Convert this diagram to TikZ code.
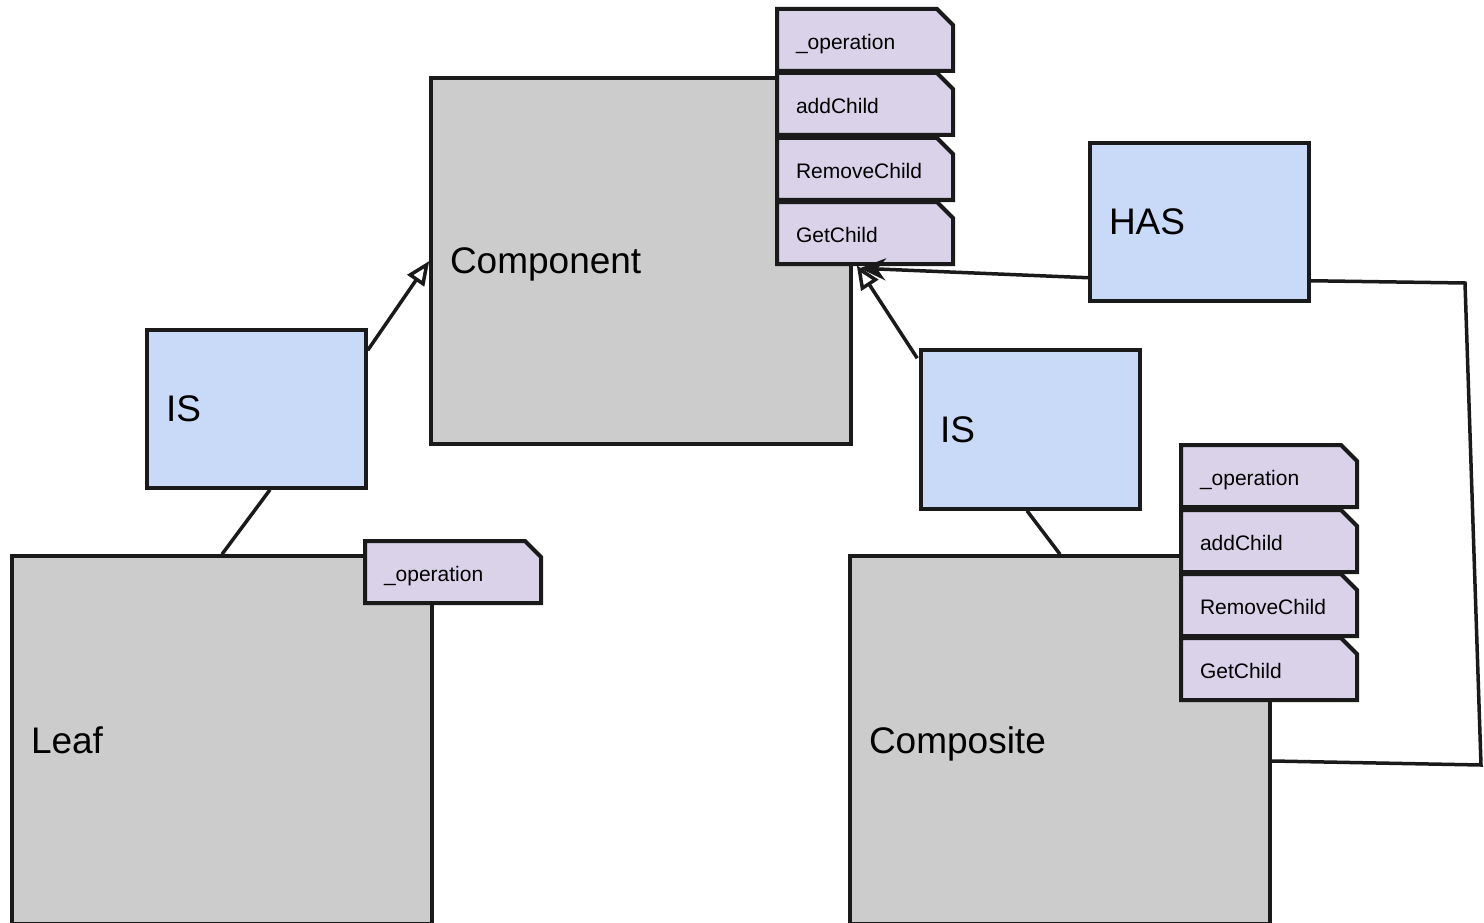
\documentclass[tikz,border=0pt]{standalone}
\usepackage{fontspec}
\setmainfont{Liberation Sans}
\usetikzlibrary{arrows.meta,shapes.misc}

\definecolor{boxgray}{HTML}{CCCCCC}
\definecolor{relblue}{HTML}{C9DAF8}
\definecolor{methpurple}{HTML}{D9D2E9}
\definecolor{ink}{HTML}{1A1A1A}

\tikzset{
  classbox/.style={draw=ink, line width=3.5pt, fill=boxgray,
    minimum width=420pt, minimum height=368pt, inner xsep=19pt,
    text width=382pt, text depth=0pt, align=left,
    font=\fontsize{37}{40}\selectfont},
  relbox/.style={draw=ink, line width=3.5pt, fill=relblue,
    minimum width=219pt, minimum height=158pt, inner xsep=19pt,
    text width=181pt, text depth=0pt, align=left,
    font=\fontsize{37}{40}\selectfont},
  methtab/.style={draw=ink, line width=4pt, fill=methpurple,
    chamfered rectangle, chamfered rectangle corners=north east,
    chamfered rectangle xsep=8pt, chamfered rectangle ysep=8pt,
    minimum width=160pt, minimum height=62pt, inner xsep=11pt, inner ysep=0pt,
    text width=138pt, text height=19pt, text depth=0pt, align=left,
    font=\fontsize{21}{24}\selectfont},
  link/.style={draw=ink, line width=3.5pt},
  isarrow/.style={link, -{Triangle[open, length=24pt, width=20pt]}},
  hasarrow/.style={link, -{Stealth[length=26pt, width=22pt]}},
}

\begin{document}
\begin{tikzpicture}[x=1pt, y=-1pt]
  \useasboundingbox (0,0) rectangle (1484,923);

  % Component with its operations
  \node[classbox, minimum height=366pt] (comp) at (641,261) {Component};
  \node[methtab] (cop) at (865,40)  {\_operation};
  \node[methtab] (cadd) at (865,104) {addChild};
  \node[methtab] (crem) at (865,169) {RemoveChild};
  \node[methtab] (cget) at (865,233) {GetChild};

  % Leaf
  \node[classbox] (leaf) at (222,740) {Leaf};
  \node[methtab] (lop) at (453,572) {\_operation};

  % Composite with its operations
  \node[classbox] (compo) at (1060,740) {Composite};
  \node[methtab] (kop) at (1269,476) {\_operation};
  \node[methtab] (kadd) at (1269,541) {addChild};
  \node[methtab] (krem) at (1269,605) {RemoveChild};
  \node[methtab] (kget) at (1269,669) {GetChild};

  % Relation boxes
  \node[relbox] (isl) at (256.5,409) {IS};
  \node[relbox, minimum height=159pt] (isr) at (1030.5,429.5) {IS};
  \node[relbox] (has) at (1199.5,222) {HAS};

  % Connectors
  \coordinate (compin) at ([xshift=4pt, yshift=-189pt]comp.north east);
  \draw[isarrow] ([yshift=-22pt]isl.north east) -- (comp.west);
  \draw[link] ([xshift=13.5pt]isl.south) -- (leaf.north);
  \draw[isarrow] ([xshift=-2pt, yshift=-10pt]isr.north west) -- (compin);
  \draw[link] ([xshift=-3.5pt]isr.south) -- (compo.north);
  \draw[hasarrow] ([yshift=25pt]has.south west) -- ([xshift=3pt, yshift=-3pt]compin);

  \coordinate (bendA) at (1465,283);
  \coordinate (bendB) at (1481,765);
  \draw[link] ([yshift=22pt]has.south east) -- (bendA) -- (bendB)
    -- ([yshift=-21pt]compo.east);
\end{tikzpicture}
\end{document}
